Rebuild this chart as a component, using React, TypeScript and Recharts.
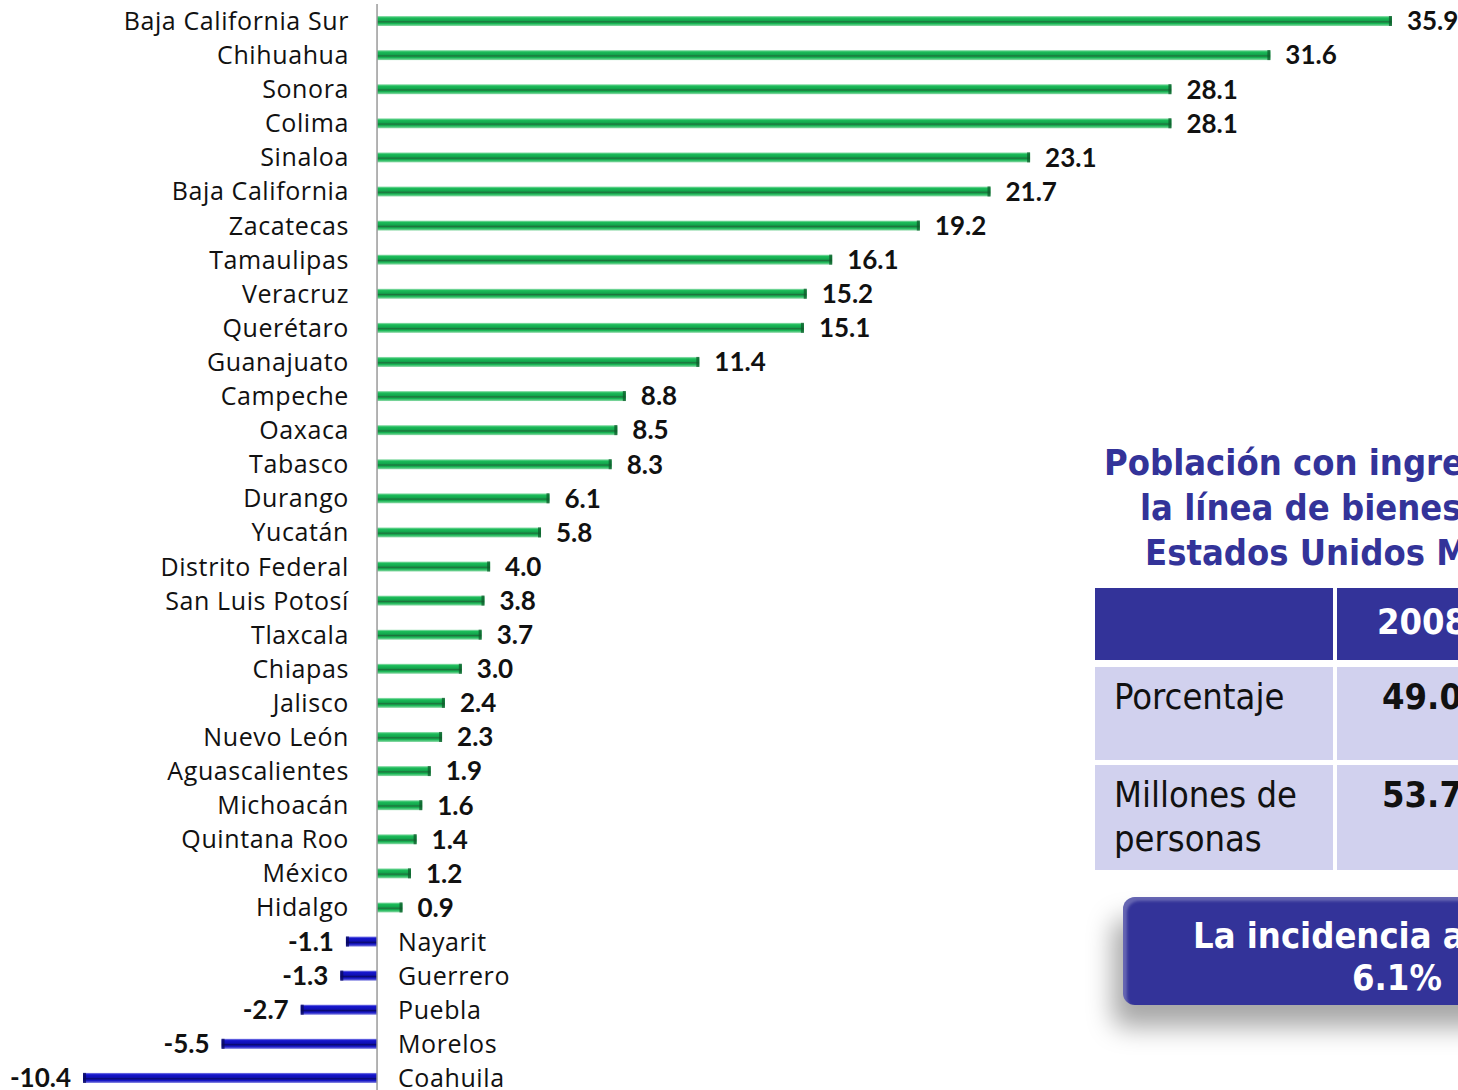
import React from 'react';
import { BarChart, Bar, XAxis, YAxis, ReferenceLine, LabelList } from 'recharts';

// Variación por entidad federativa (puntos porcentuales)
const states = [
  'Baja California Sur', 'Chihuahua', 'Sonora', 'Colima', 'Sinaloa', 'Baja California',
  'Zacatecas', 'Tamaulipas', 'Veracruz', 'Querétaro', 'Guanajuato', 'Campeche', 'Oaxaca',
  'Tabasco', 'Durango', 'Yucatán', 'Distrito Federal', 'San Luis Potosí', 'Tlaxcala',
  'Chiapas', 'Jalisco', 'Nuevo León', 'Aguascalientes', 'Michoacán', 'Quintana Roo',
  'México', 'Hidalgo', 'Nayarit', 'Guerrero', 'Puebla', 'Morelos', 'Coahuila',
];
const changes = [
  35.9, 31.6, 28.1, 28.1, 23.1, 21.7, 19.2, 16.1, 15.2, 15.1, 11.4, 8.8, 8.5, 8.3, 6.1, 5.8,
  4.0, 3.8, 3.7, 3.0, 2.4, 2.3, 1.9, 1.6, 1.4, 1.2, 0.9, -1.1, -1.3, -2.7, -5.5, -10.4,
];

const titleLines = ['Población con ingreso inferior a', 'la línea de bienestar en los', 'Estados Unidos Mexicanos'];
const tableHeader = ['', '2008'];
const tableRows = [
  ['Porcentaje', '49.0'],
  ['Millones de personas', '53.7'],
];
const noteLines = ['La incidencia aumentó', '6.1%'];

const data = states.map((name, i) => ({ name, value: changes[i] }));

const NAME_FONT = '"Open Sans", "Noto Sans", sans-serif';
const VALUE_FONT = 'Lato, "Open Sans", sans-serif';
const PANEL_FONT = '"DejaVu Sans Condensed", "DejaVu Sans", sans-serif';
const NAVY = '#333399';

function GradientBar(props: any) {
  const { x, y, width, height, value } = props;
  const x0 = Math.min(x, x + width);
  const w = Math.abs(width);
  const pos = value >= 0;
  const fill = pos ? 'url(#gGreen)' : 'url(#gBlue)';
  const cap = pos ? '#0d5a2a' : '#08085a';
  return (
    <g>
      <rect x={x0} y={y} width={w} height={height} fill={fill} />
      <rect x={pos ? x0 + w - 3 : x0} y={y} width={3} height={height} fill={cap} opacity={0.75} />
    </g>
  );
}

function ValueLabel(props: any) {
  const { x, y, width, height, value } = props;
  const x0 = Math.min(x, x + width);
  const x1 = Math.max(x, x + width);
  const pos = value >= 0;
  return (
    <text
      x={pos ? x1 + 15 : x0 - 12}
      y={y + height / 2}
      dy="0.36em"
      textAnchor={pos ? 'start' : 'end'}
      fontFamily={VALUE_FONT}
      fontWeight={700}
      fontSize={26}
      fill="#111"
    >
      {value.toFixed(1)}
    </text>
  );
}

function NameLabel(props: any) {
  const { y, height, value, index } = props;
  const v = changes[index];
  const zero = 377;
  return (
    <text
      x={v >= 0 ? zero - 28 : zero + 21}
      y={y + height / 2}
      dy="0.36em"
      textAnchor={v >= 0 ? 'end' : 'start'}
      fontFamily={NAME_FONT}
      fontSize={25}
      letterSpacing={0.6}
      fill="#111"
    >
      {value}
    </text>
  );
}

export default function App() {
  return (
    <div
      style={{
        position: 'absolute',
        left: 0,
        top: 0,
        width: 1458,
        height: 1090,
        overflow: 'hidden',
        background: '#fff',
      }}
    >
      <BarChart
        layout="vertical"
        width={1458}
        height={1095}
        data={data}
        margin={{ top: 4, right: 6.7, left: 37.8, bottom: 0 }}
        barCategoryGap={0}
      >
        <defs>
          <linearGradient id="gGreen" x1="0" y1="0" x2="0" y2="1">
            <stop offset="0%" stopColor="#a5e4bc" />
            <stop offset="18%" stopColor="#1cbc5a" />
            <stop offset="45%" stopColor="#12a64c" />
            <stop offset="58%" stopColor="#1d723c" />
            <stop offset="75%" stopColor="#17b654" />
            <stop offset="100%" stopColor="#8edaa8" />
          </linearGradient>
          <linearGradient id="gBlue" x1="0" y1="0" x2="0" y2="1">
            <stop offset="0%" stopColor="#8585ea" />
            <stop offset="18%" stopColor="#1616cc" />
            <stop offset="45%" stopColor="#1010b4" />
            <stop offset="58%" stopColor="#0a0a70" />
            <stop offset="75%" stopColor="#1414c4" />
            <stop offset="100%" stopColor="#7a7ae0" />
          </linearGradient>
        </defs>
        <XAxis type="number" domain={[-12, 38]} hide />
        <YAxis type="category" dataKey="name" hide />
        <ReferenceLine x={0} stroke="#9a9a9a" strokeWidth={1.5} />
        <Bar dataKey="value" barSize={10} shape={GradientBar} isAnimationActive={false}>
          <LabelList dataKey="value" content={ValueLabel} />
          <LabelList dataKey="name" content={NameLabel} />
        </Bar>
      </BarChart>

      {/* Panel derecho */}
      {titleLines.map((t, i) => (
        <div
          key={t}
          style={{
            position: 'absolute',
            left: [1104, 1140, 1145][i],
            top: 442 + i * 45,
            whiteSpace: 'nowrap',
            fontFamily: PANEL_FONT,
            fontWeight: 700,
            fontSize: 36,
            color: NAVY,
            lineHeight: '42px',
          }}
        >
          {t}
        </div>
      ))}

      <div style={{ position: 'absolute', left: 1095, top: 588, width: 238, height: 72, background: NAVY }} />
      <div
        style={{
          position: 'absolute',
          left: 1337,
          top: 588,
          width: 240,
          height: 72,
          background: NAVY,
          color: '#fff',
          fontFamily: PANEL_FONT,
          fontWeight: 700,
          fontSize: 36,
          lineHeight: '68px',
          paddingLeft: 40,
          boxSizing: 'border-box',
        }}
      >
        {tableHeader[1]}
      </div>
      {tableRows.map((row, i) => (
        <React.Fragment key={row[0]}>
          <div
            style={{
              position: 'absolute',
              left: 1095,
              top: [667, 765][i],
              width: 238,
              height: [93, 105][i],
              background: '#d1d1ee',
              fontFamily: PANEL_FONT,
              fontSize: 36,
              lineHeight: '44px',
              padding: '8px 0 0 19px',
              boxSizing: 'border-box',
              color: '#111',
            }}
          >
            {row[0]}
          </div>
          <div
            style={{
              position: 'absolute',
              left: 1337,
              top: [667, 765][i],
              width: 240,
              height: [93, 105][i],
              background: '#d1d1ee',
              fontFamily: PANEL_FONT,
              fontWeight: 700,
              fontSize: 36,
              lineHeight: '44px',
              padding: '8px 0 0 45px',
              boxSizing: 'border-box',
              color: '#111',
            }}
          >
            {row[1]}
          </div>
        </React.Fragment>
      ))}

      <div
        style={{
          position: 'absolute',
          left: 1123,
          top: 897,
          width: 600,
          height: 108,
          background: NAVY,
          borderRadius: 12,
          boxShadow: '-10px 22px 26px rgba(0,0,0,0.35), inset 4px 4px 3px rgba(255,255,255,0.25)',
          color: '#fff',
          fontFamily: PANEL_FONT,
          fontWeight: 700,
          fontSize: 36,
          lineHeight: '42px',
        }}
      >
        <div style={{ position: 'absolute', left: 70, top: 18, whiteSpace: 'nowrap' }}>{noteLines[0]}</div>
        <div style={{ position: 'absolute', left: 229, top: 60, whiteSpace: 'nowrap' }}>{noteLines[1]}</div>
      </div>
    </div>
  );
}
